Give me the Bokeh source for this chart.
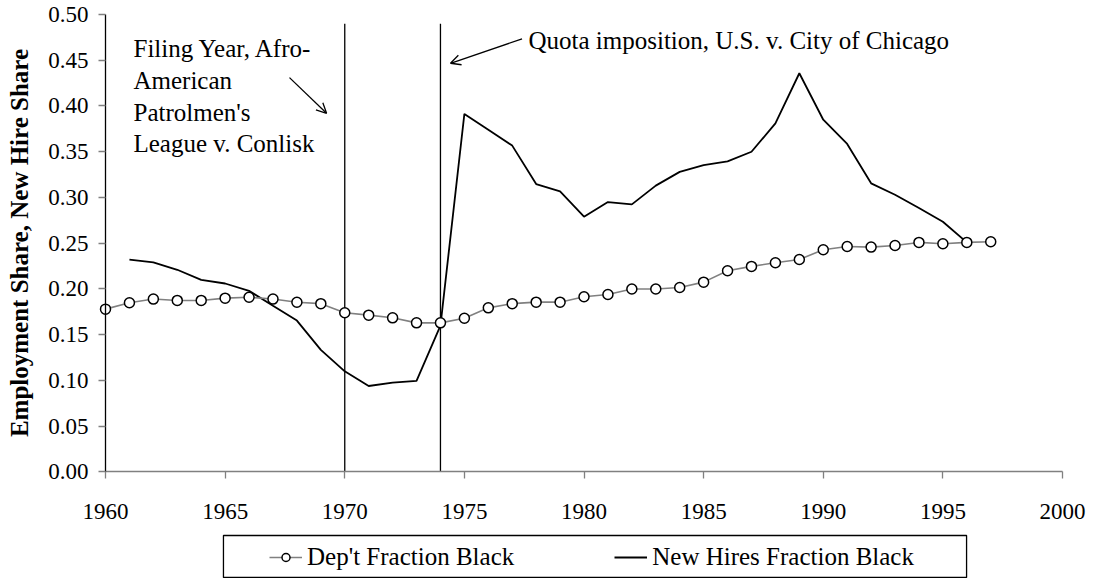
from bokeh.plotting import figure
from bokeh.models import (Range1d, FixedTicker, NumeralTickFormatter, Legend,
                          LegendItem, Arrow, OpenHead, Label, LinearAxis,
                          BoxAnnotation)
from bokeh.embed import file_html
from bokeh.resources import INLINE

# ---- data ----
dept_years = list(range(1960, 1998))
dept_share = [0.178, 0.185, 0.189, 0.1875, 0.1875, 0.190, 0.191, 0.189, 0.1855, 0.184,
              0.174, 0.1714, 0.1685, 0.163, 0.163, 0.168, 0.1794, 0.184, 0.1856, 0.1856,
              0.1915, 0.194, 0.200, 0.200, 0.2017, 0.2075, 0.220, 0.2247, 0.2287, 0.2323,
              0.2429, 0.2465, 0.2458, 0.2476, 0.2509, 0.2495, 0.2509, 0.2516]

hire_years = list(range(1961, 1997))
hire_share = [0.232, 0.229, 0.221, 0.210, 0.206, 0.198, 0.1816, 0.1655, 0.1335, 0.110,
              0.094, 0.0977, 0.0996, 0.160, 0.3913, 0.374, 0.3567, 0.3147, 0.3067, 0.279,
              0.295, 0.2925, 0.313, 0.328, 0.3355, 0.3395, 0.350, 0.381, 0.4358, 0.385,
              0.3585, 0.3155, 0.303, 0.2885, 0.2735, 0.2509]

event_years = [1970, 1974]
event_top = [0.49, 0.49]

x_ticks = [1960, 1965, 1970, 1975, 1980, 1985, 1990, 1995, 2000]
y_ticks = [0.0, 0.05, 0.10, 0.15, 0.20, 0.25, 0.30, 0.35, 0.40, 0.45, 0.50]

series_names = ["Dep't Fraction Black", "New Hires Fraction Black"]
filing_lines = ["Filing Year, Afro-", "American", "Patrolmen's", "League v. Conlisk"]
quota_text = "Quota imposition, U.S. v. City of Chicago"
y_title = "Employment Share, New Hire Share"

FONT = "Liberation Serif"
W, H = 1090, 578

# frame covers the whole canvas; axes are pinned at 1960 / 0.00
p = figure(width=W, height=H, output_backend="svg", toolbar_location=None,
           x_range=Range1d(1955.611, 2001.170), y_range=Range1d(-0.1164, 0.5153),
           x_axis_location=None, y_axis_location=None,
           min_border=0, min_border_left=0, min_border_right=0,
           min_border_top=0, min_border_bottom=0)
p.outline_line_color = None
p.xgrid.visible = False
p.ygrid.visible = False

xaxis = LinearAxis(fixed_location=0, bounds=(1960, 2000),
                   ticker=FixedTicker(ticks=x_ticks))
yaxis = LinearAxis(fixed_location=1960, bounds=(0, 0.5),
                   ticker=FixedTicker(ticks=y_ticks),
                   formatter=NumeralTickFormatter(format="0.00"))
for ax in (xaxis, yaxis):
    ax.major_tick_in = 0
    ax.major_tick_out = 7
    ax.minor_tick_line_color = None
    ax.major_tick_line_color = "#808080"
    ax.major_tick_line_width = 1.3
    ax.major_label_text_font = FONT
    ax.major_label_text_font_size = "23px"
    ax.major_label_text_color = "black"
xaxis.axis_line_color = "#808080"
xaxis.axis_line_width = 1.5
yaxis.axis_line_color = "black"
yaxis.axis_line_width = 1.3
xaxis.major_label_standoff = 25
yaxis.major_label_standoff = 10
yaxis.axis_label = y_title
yaxis.axis_label_text_font = FONT
yaxis.axis_label_text_font_style = "bold"
yaxis.axis_label_text_font_size = "25px"
yaxis.axis_label_text_color = "black"
yaxis.axis_label_standoff = 12
p.add_layout(xaxis, "below")
p.add_layout(yaxis, "left")

# event lines
p.segment(x0=event_years, y0=[0, 0], x1=event_years, y1=event_top,
          line_color="black", line_width=1.3)

# series
hire_line = p.line(hire_years, hire_share, line_color="black", line_width=1.8)
dept_line = p.line(dept_years, dept_share, line_color="#808080", line_width=1.6)
dept_pts = p.scatter(dept_years, dept_share, marker="circle", size=10,
                     fill_color="white", line_color="black", line_width=1.5)

# annotations
filing_baselines = [0.4628, 0.4274, 0.3924, 0.3589]
for txt, yb in zip(filing_lines, filing_baselines):
    p.add_layout(Label(x=1961.17, y=yb, text=txt, text_font=FONT,
                       text_font_size="25px", text_baseline="alphabetic",
                       text_color="black"))
p.add_layout(Label(x=1977.68, y=0.4711, text=quota_text, text_font=FONT,
                   text_font_size="25px", text_baseline="alphabetic",
                   text_color="black"))
p.add_layout(Arrow(end=OpenHead(size=10, line_width=1.3, line_color="black"),
                   x_start=1967.69, y_start=0.431, x_end=1969.24, y_end=0.392,
                   line_width=1.3, line_color="black"))
p.add_layout(Arrow(end=OpenHead(size=10, line_width=1.3, line_color="black"),
                   x_start=1977.41, y_start=0.4734, x_end=1974.42, y_end=0.4467,
                   line_width=1.3, line_color="black"))

# legend frame + legend
p.add_layout(BoxAnnotation(left=1964.93, right=1995.99, top=-0.0694, bottom=-0.1153,
                           fill_alpha=0, line_color="black", line_alpha=1.0,
                           line_width=1.3, level="overlay"))
legend = Legend(items=[LegendItem(label=series_names[0], renderers=[dept_line, dept_pts]),
                       LegendItem(label=series_names[1], renderers=[hire_line])],
                orientation="horizontal", location=(269, 7),
                border_line_color=None, background_fill_alpha=0,
                padding=0, spacing=100, glyph_width=33, label_standoff=5,
                label_text_font=FONT, label_text_font_size="25px",
                label_text_color="black", margin=0)
p.add_layout(legend, "center")

open("out.html", "w").write(file_html(p, INLINE))
